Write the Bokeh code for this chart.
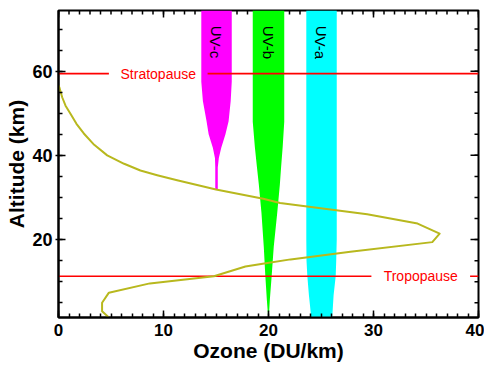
import math
from bokeh.plotting import figure
from bokeh.models import FixedTicker, Range1d, Label
from bokeh.embed import file_html
from bokeh.resources import INLINE

# ---- data ----
ozone_du = [4.8, 4.15, 4.15, 4.8, 8.7, 14.8, 17.8, 19.6, 22.1, 27.8, 35.6, 36.3,
            34.2, 29.4, 21.1, 19.5, 15.0, 11.3, 9.4, 7.8, 6.25, 4.64, 3.4, 2.41, 1.71, 1.14,
            0.67, 0.35, 0.1, 0.0]
ozone_alt = [1.5, 3.0, 5.0, 7.4, 9.6, 11.3, 13.6, 14.3, 15.3, 17.1, 19.4, 21.4,
             23.8, 26.0, 28.7, 29.7, 31.9, 34.1, 35.3, 36.4, 38.0, 40.0, 42.5, 45.2, 47.5, 49.9,
             51.8, 53.8, 56.0, 56.6]

uvc_alt = [74.4, 57.5, 52.9, 48.1, 45.0, 41.8, 39.4, 37.1, 32.0]
uvc_left = [13.6, 13.6, 13.75, 14.1, 14.3, 14.7, 14.9, 14.93, 14.93]
uvc_right = [16.5, 16.5, 16.4, 16.2, 15.9, 15.5, 15.27, 15.17, 15.17]

uvb_alt = [74.4, 48.0, 42.0, 37.2, 33.0, 26.3, 18.3, 11.3, 5.8, 1.5]
uvb_left = [18.5, 18.5, 18.7, 18.9, 19.08, 19.33, 19.55, 19.7, 19.84, 19.97]
uvb_right = [21.5, 21.5, 21.35, 21.2, 21.08, 20.83, 20.5, 20.3, 20.13, 20.03]

uva_alt = [74.4, 20.0, 15.0, 11.3, 6.8, 1.5]
uva_left = [23.6, 23.6, 23.62, 23.7, 23.85, 24.07]
uva_right = [26.5, 26.5, 26.45, 26.4, 26.2, 26.07]

uv_names = ["UV-c", "UV-b", "UV-a"]
uv_label_x = [15.0, 20.0, 25.0]
uv_label_alt = 70.8

layer_names = ["Stratopause", "Tropopause"]
layer_alt = [59.4, 11.3]
layer_label_x = [9.5, 34.5]
layer_gap = 4.7

x_ticks = [0, 10, 20, 30, 40]
x_minor = list(range(0, 41))
y_ticks = [20, 40, 60]
y_minor = list(range(5, 75, 5))

XMIN, XMAX = 0, 40
YMIN, YMAX = 1.5, 74.4

FONT = "Liberation Sans"

p = figure(width=484, height=366, x_range=Range1d(XMIN, XMAX), y_range=Range1d(YMIN, YMAX),
           output_backend="svg", toolbar_location=None,
           min_border_left=58, min_border_right=6, min_border_top=10, min_border_bottom=49,
           x_axis_label="Ozone (DU/km)", y_axis_label="Altitude (km)")
p.grid.visible = False
p.outline_line_color = "black"
p.outline_line_width = 2
p.background_fill_color = "white"
p.border_fill_color = "white"

def style(ax):
    ax.axis_line_width = 2
    ax.axis_line_color = "black"
    ax.major_tick_line_width = 1.5
    ax.minor_tick_line_width = 1.5
    ax.major_tick_in = 7
    ax.minor_tick_in = 4
    ax.minor_tick_out = 0
    ax.major_label_text_font = FONT
    ax.major_label_text_font_style = "bold"
    ax.major_label_text_font_size = "17px"
    ax.major_label_text_color = "black"
    ax.axis_label_text_font = FONT
    ax.axis_label_text_font_style = "bold"
    ax.axis_label_text_font_size = "21px"
    ax.axis_label_text_color = "black"

xa = p.xaxis[0]
xa.ticker = FixedTicker(ticks=x_ticks, minor_ticks=x_minor)
style(xa)
xa.major_tick_out = 0
xa.major_label_standoff = 6
xa.axis_label_standoff = 0

ya = p.yaxis[0]
ya.ticker = FixedTicker(ticks=y_ticks, minor_ticks=y_minor)
style(ya)
ya.major_label_text_font_size = "18px"
ya.axis_label_text_font_size = "21px"
ya.major_tick_out = 3
ya.major_label_standoff = 3
ya.axis_label_standoff = 1

# frame ticks on the top and right sides (no labels), lengths in screen pixels
p.ray(x=x_minor, y=[YMAX] * len(x_minor), length=4, length_units="screen",
      angle=-math.pi / 2, line_color="black", line_width=1.5)
p.ray(x=x_ticks, y=[YMAX] * len(x_ticks), length=7, length_units="screen",
      angle=-math.pi / 2, line_color="black", line_width=1.5)
p.ray(x=[XMAX] * len(y_minor), y=y_minor, length=4, length_units="screen",
      angle=math.pi, line_color="black", line_width=1.5)
p.ray(x=[XMAX] * len(y_ticks), y=y_ticks, length=8, length_units="screen",
      angle=math.pi, line_color="black", line_width=1.5)

# UV bands
p.harea(x1=uvc_left, x2=uvc_right, y=uvc_alt, fill_color="#FF00FF")
p.harea(x1=uvb_left, x2=uvb_right, y=uvb_alt, fill_color="#00FF00")
p.harea(x1=uva_left, x2=uva_right, y=uva_alt, fill_color="#00FFFF")

for name, lx in zip(uv_names, uv_label_x):
    p.add_layout(Label(x=lx, y=uv_label_alt, text=name, angle=-1.5708,
                       text_font=FONT, text_font_size="15px", text_color="black",
                       text_align="left", text_baseline="middle"))

# stratopause / tropopause lines with a gap for their labels
x0s, x1s, ys = [], [], []
for alt, lx in zip(layer_alt, layer_label_x):
    x0s += [XMIN, lx + layer_gap]
    x1s += [lx - layer_gap, XMAX]
    ys += [alt, alt]
p.segment(x0=x0s, y0=ys, x1=x1s, y1=ys, line_color="#FF0000", line_width=1.6)
for name, alt, lx in zip(layer_names, layer_alt, layer_label_x):
    p.add_layout(Label(x=lx, y=alt, text=name, text_font=FONT, text_font_size="14px",
                       text_color="#FF0000", text_align="center", text_baseline="middle"))

# ozone profile
p.line(ozone_du, ozone_alt, line_color="#B8B81E", line_width=2, line_join="round")

open("out.html", "w").write(file_html(p, INLINE))
